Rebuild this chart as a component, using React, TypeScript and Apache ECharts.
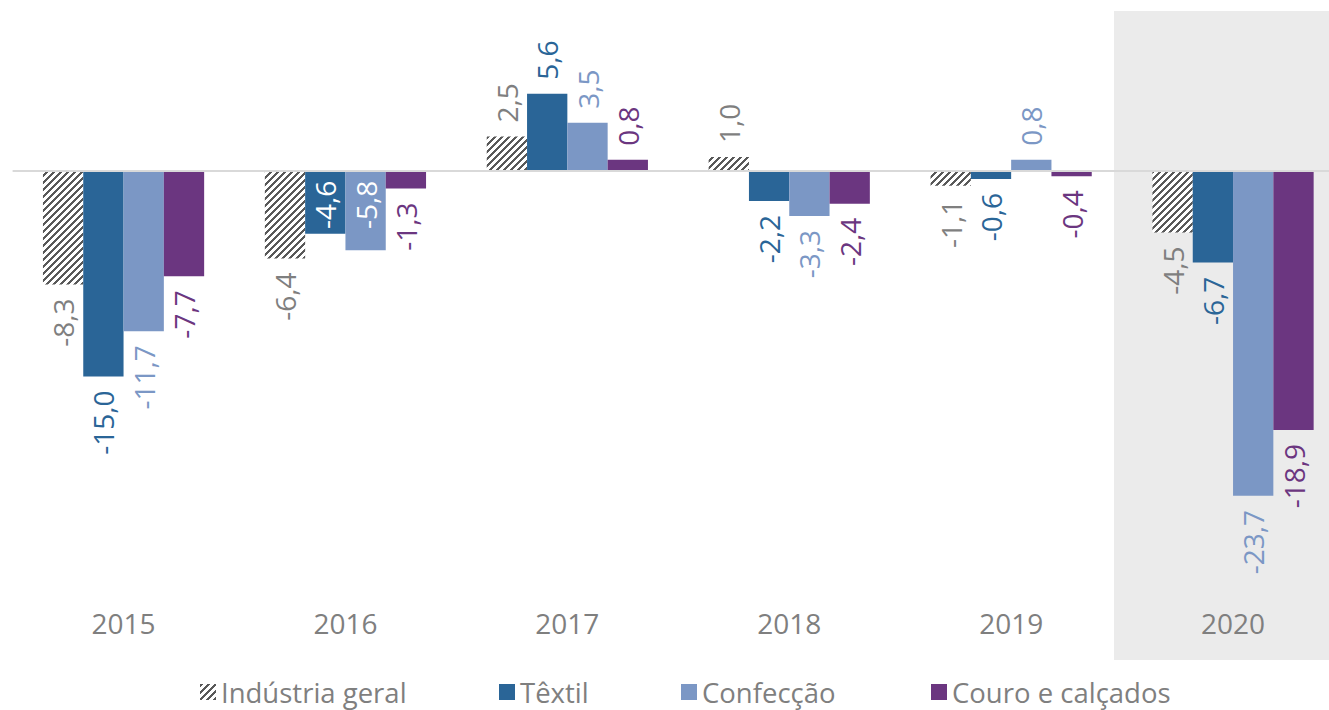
import React, { useEffect, useRef } from "react";
import * as echarts from "echarts";

const categories = ["2015", "2016", "2017", "2018", "2019", "2020"];
const seriesNames = ["Indústria geral", "Têxtil", "Confecção", "Couro e calçados"];
const industriaGeral = [-8.3, -6.4, 2.5, 1.0, -1.1, -4.5];
const textil = [-15.0, -4.6, 5.6, -2.2, -0.6, -6.7];
const confeccao = [-11.7, -5.8, 3.5, -3.3, 0.8, -23.7];
const couro = [-7.7, -1.3, 0.8, -2.4, -0.4, -18.9];

const barColors = ["#595959", "#2a6597", "#7b97c5", "#6b3680"];
const labelColors = ["#7f7f7f", "#2a6597", "#7b97c5", "#6b3680"];
// labels drawn inside the bar (series index, category index)
const insideLabels = [
  [1, 1],
  [2, 1],
];

const FONT = "'Open Sans', 'Noto Sans', sans-serif";

function makeHatch(): HTMLCanvasElement {
  const s = 7;
  const c = document.createElement("canvas");
  c.width = s;
  c.height = s;
  const ctx = c.getContext("2d")!;
  ctx.fillStyle = "#ffffff";
  ctx.fillRect(0, 0, s, s);
  ctx.fillStyle = "#595959";
  for (let x = 0; x < s; x++) {
    for (let y = 0; y < s; y++) {
      if ((x + y) % s < 3) ctx.fillRect(x, y, 1, 1);
    }
  }
  return c;
}

export default function App() {
  const ref = useRef<HTMLDivElement>(null);
  useEffect(() => {
    document.body.style.margin = "0";
    document.body.style.overflow = "hidden";
    document.documentElement.style.overflow = "hidden";
    const chart = echarts.init(ref.current!, null, { renderer: "svg" });
    const hatch = makeHatch();
    const all = [industriaGeral, textil, confeccao, couro];
    const fmt = (v: number) => v.toFixed(1).replace(".", ",");

    const series = all.map((vals, si) => ({
      name: seriesNames[si],
      type: "bar",
      barWidth: 40.3,
      barGap: "0%",
      itemStyle: {
        color: si === 0 ? { image: hatch, repeat: "repeat" } : barColors[si],
      },
      data: vals.map((v, ci) => {
        const inside = insideLabels.some((p) => p[0] === si && p[1] === ci);
        let label: any;
        if (inside) {
          label = {
            position: "insideTop",
            distance: 10,
            align: "right",
            verticalAlign: "middle",
            color: "#ffffff",
          };
        } else if (v >= 0) {
          label = { position: "top", distance: 14, align: "left", verticalAlign: "middle" };
        } else {
          label = { position: "bottom", distance: 14, align: "right", verticalAlign: "middle" };
        }
        return { value: v, label };
      }),
      label: {
        show: true,
        rotate: 90,
        color: labelColors[si],
        fontFamily: FONT,
        fontSize: 28,
        formatter: (p: any) => fmt(p.value),
      },
      markLine:
        si === 0
          ? {
              silent: true,
              symbol: ["none", "none"],
              label: { show: false },
              lineStyle: { color: "#d9d9d9", width: 2, type: "solid" },
              data: [{ yAxis: 0 }],
            }
          : undefined,
    }));

    const legendLefts = [200, 499, 681, 931];
    const legend = seriesNames.map((n, i) => ({
      data: [n],
      left: legendLefts[i],
      top: 678,
      padding: 0,
      itemWidth: 16,
      itemHeight: 16,
      icon: "rect",
      textStyle: { fontFamily: FONT, fontSize: 27.5, color: "#7f7f7f" },
    }));

    chart.setOption({
      animation: false,
      graphic: [
        {
          type: "rect",
          z: 0,
          silent: true,
          shape: { x: 1114, y: 11, width: 215, height: 649 },
          style: { fill: "#ebebeb" },
        },
      ],
      grid: { left: 12.6, top: 33.5, width: 1331.4, height: 548.8, containLabel: false },
      legend,
      xAxis: {
        type: "category",
        data: categories,
        axisLine: { show: false, onZero: false },
        axisTick: { show: false },
        axisLabel: { margin: 27, fontFamily: FONT, fontSize: 28, color: "#7f7f7f" },
      },
      yAxis: {
        type: "value",
        min: -30,
        max: 10,
        show: false,
        splitLine: { show: false },
      },
      series,
    });
    return () => chart.dispose();
  }, []);
  return <div ref={ref} style={{ width: 1345, height: 710 }} />;
}
